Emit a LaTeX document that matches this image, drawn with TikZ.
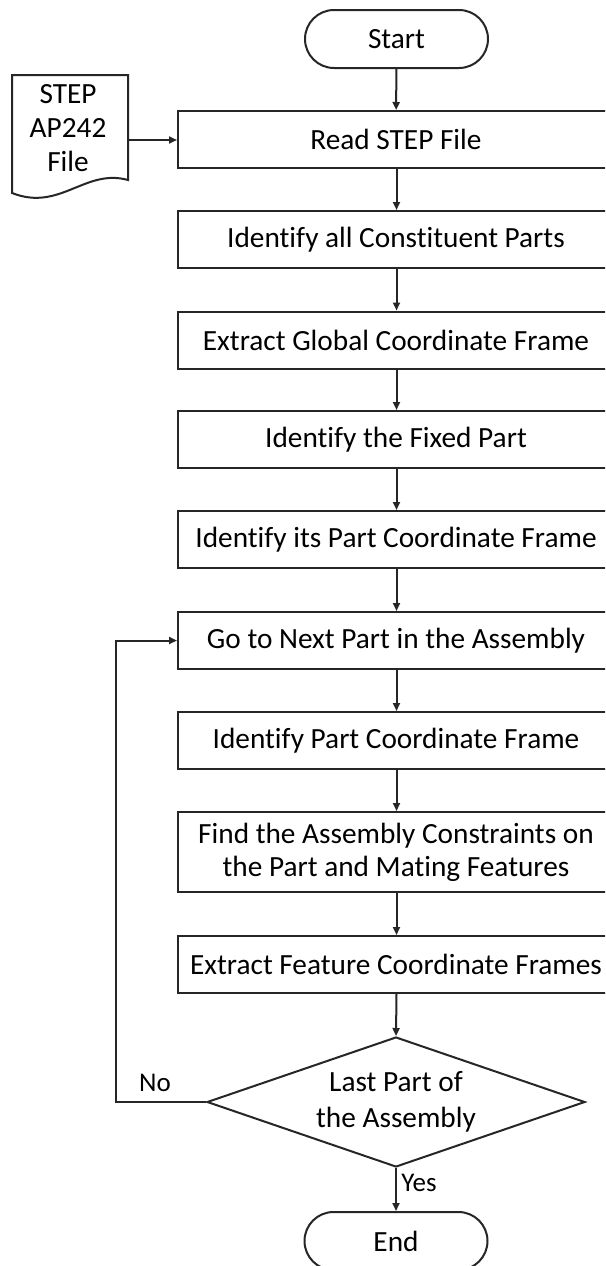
\documentclass[tikz,border=0pt]{standalone}
\usepackage{fontspec}
\setmainfont{Carlito}[Ligatures=NoCommon]
\usetikzlibrary{arrows.meta,shapes.geometric}

\begin{document}
\begin{tikzpicture}[x=1pt,y=-1pt,
  every node/.style={font=\fontsize{29.3}{33}\selectfont, text=black},
  line/.style={draw=black!85, line width=2pt},
  flow/.style={line, -{Triangle[length=8pt,width=7pt]}},
  stepbox/.style={line, rectangle, minimum width=436pt, minimum height=57pt,
    inner sep=0pt, align=center, fill=white},
  terminal/.style={line, rectangle, rounded corners=29pt, minimum width=183pt,
    minimum height=58pt, inner sep=0pt, fill=white},
  decision/.style={line, diamond, minimum width=378pt, minimum height=130pt,
    inner sep=0pt, align=center, aspect=2.9,
    font=\fontsize{29.3}{36}\selectfont},
  tag/.style={font=\fontsize{27}{31}\selectfont}
]
\useasboundingbox (0,0) rectangle (605,1266);
\clip (0,0) rectangle (605,1266);
\fill[white] (0,0) rectangle (605,1266);

% process column
\node[terminal] (start) at (396.5,39) {Start};
\node[stepbox] (read)   at (396,139.5) {Read STEP File};
\node[stepbox] (parts)  at (396,239.5) {Identify all Constituent Parts};
\node[stepbox] (global) at (396,340)   {Extract Global Coordinate Frame};
\node[stepbox] (fixed)  at (396,439.5) {Identify the Fixed Part};
\node[stepbox] (fixcf)  at (396,539.5) {Identify its Part Coordinate Frame};
\node[stepbox] (next)   at (396,640.5) {Go to Next Part in the Assembly};
\node[stepbox] (partcf) at (396,740.5) {Identify Part Coordinate Frame};
\node[stepbox, minimum height=80pt] (mating) at (396,852)
  {Find the Assembly Constraints on\\the Part and Mating Features};
\node[stepbox] (feat)   at (396,964.5) {Extract Feature Coordinate Frames};
\node[decision] (last)  at (396,1102) {Last Part of\\the Assembly};
\node[terminal] (end)   at (396,1241) {End};

% input document
\draw[line, fill=white] (12,193) -- (12,75) -- (128,75) -- (128,180)
  .. controls (85,168) and (60,212) .. (12,193) -- cycle;
\node[align=center, font=\fontsize{29.3}{34}\selectfont] (doc) at (68,128)
  {STEP\\AP242\\File};
\coordinate (docout) at (128,140);

% connectors
\draw[flow] (docout) -- (read.west |- docout);
\draw[flow] (start) -- (read);
\draw[flow] (read.south -| start) -- (parts.north -| start);
\draw[flow] (parts.south -| start) -- (global.north -| start);
\draw[flow] (global.south -| start) -- (fixed.north -| start);
\draw[flow] (fixed.south -| start) -- (fixcf.north -| start);
\draw[flow] (fixcf.south -| start) -- (next.north -| start);
\draw[flow] (next.south -| start) -- (partcf.north -| start);
\draw[flow] (partcf.south -| start) -- (mating.north -| start);
\draw[flow] (mating.south -| start) -- (feat.north -| start);
\draw[flow] (feat.south -| start) -- (last.north);
\draw[flow] (last.south) -- (end.north -| last.south);
\draw[flow] (last.west) -- (116,1102) -- (116,640.5) -- (next.west);

% branch labels
\node[tag] (no)  at (155,1083) {No};
\node[tag] (yes) at (419,1183) {Yes};
\end{tikzpicture}
\end{document}
